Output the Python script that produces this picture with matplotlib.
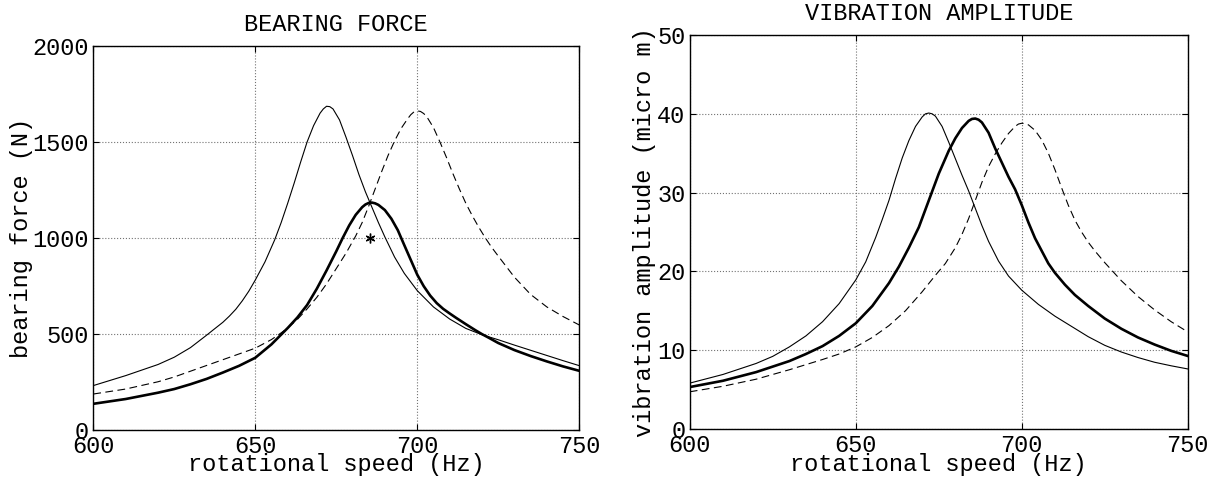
import matplotlib
matplotlib.use("Agg")
import matplotlib.pyplot as plt

plt.rcParams['font.family'] = ['Liberation Mono', 'DejaVu Sans Mono']

# bearing force (N)
bf_thin_hz = [600, 610, 620, 625, 630, 635, 637, 640, 642, 644, 646, 648, 650, 653, 656, 658, 660, 662, 664,
              666, 668, 670, 671, 672, 673, 674, 676, 678, 680, 682, 684, 686, 688, 690, 693, 696, 700, 705,
              710, 715, 720, 725, 730, 735, 740, 745, 750]
bf_thin = [230, 282, 340, 378, 428, 493, 520, 560, 592, 628, 672, 722, 780, 875, 990, 1080, 1180, 1285, 1395,
           1500, 1585, 1650, 1672, 1686, 1684, 1672, 1615, 1525, 1430, 1330, 1240, 1160, 1080, 1005, 900, 815,
           725, 640, 577, 528, 495, 469, 441, 414, 387, 360, 334]

bf_bold_hz = [600, 610, 620, 625, 630, 635, 640, 645, 650, 655, 660, 663, 666, 669, 672, 675, 677, 679, 681,
              683, 684, 685, 686, 687, 688, 690, 692, 694, 696, 698, 700, 702, 704, 706, 708, 710, 712, 715,
              718, 720, 722, 725, 730, 735, 740, 745, 750]
bf_bold = [135, 160, 193, 212, 237, 265, 298, 333, 375, 445, 530, 585, 650, 735, 830, 930, 1000, 1065, 1120,
           1160, 1174, 1182, 1184, 1180, 1172, 1145, 1100, 1040, 962, 885, 808, 748, 699, 660, 630, 606, 583,
           550, 518, 498, 480, 452, 415, 384, 356, 330, 307]

bf_dash_hz = [600, 610, 620, 625, 630, 635, 640, 645, 650, 655, 658, 660, 663, 666, 669, 672, 675, 678, 681,
              683, 685, 687, 689, 691, 693, 695, 697, 698, 699, 700, 701, 702, 703, 705, 707, 709, 711, 713,
              715, 717, 719, 721, 723, 725, 730, 735, 740, 745, 750]
bf_dash = [186, 212, 250, 275, 305, 335, 365, 395, 425, 470, 505, 530, 575, 630, 690, 760, 840, 920, 1010,
           1080, 1165, 1255, 1345, 1430, 1505, 1570, 1620, 1642, 1657, 1662, 1659, 1648, 1630, 1575, 1500,
           1420, 1335, 1255, 1180, 1115, 1055, 1000, 950, 905, 795, 705, 640, 590, 546]

bf_mark_hz = [685.5]
bf_mark = [1000]

# vibration amplitude (micro m)
va_thin_hz = [600, 610, 620, 625, 630, 635, 640, 645, 650, 653, 656, 658, 660, 662, 664, 666, 668, 670,
              671, 672, 673, 674, 676, 678, 680, 682, 684, 686, 688, 690, 693, 696, 700, 705, 710, 715, 720,
              725, 730, 735, 740, 745, 750]
va_thin = [5.8, 6.9, 8.3, 9.2, 10.4, 11.8, 13.6, 15.9, 18.9, 21.2, 24.3, 26.6, 29.0, 31.8, 34.4, 36.6, 38.4,
           39.6, 40.0, 40.1, 40.0, 39.7, 38.4, 36.4, 34.3, 32.2, 30.2, 28.0, 25.8, 23.8, 21.3, 19.4, 17.6,
           15.8, 14.3, 13.0, 11.7, 10.6, 9.75, 9.05, 8.45, 8.0, 7.6]

va_bold_hz = [600, 610, 620, 625, 630, 635, 640, 645, 650, 655, 660, 663, 666, 669, 672, 675, 678, 680, 682,
              684, 685, 686, 687, 688, 690, 692, 694, 696, 698, 700, 702, 704, 706, 708, 710, 713, 716, 720,
              725, 730, 735, 740, 745, 750]
va_bold = [5.3, 6.1, 7.2, 7.9, 8.6, 9.5, 10.5, 11.8, 13.4, 15.6, 18.5, 20.6, 23.0, 25.6, 29.0, 32.4, 35.3,
           36.9, 38.2, 39.1, 39.35, 39.4, 39.25, 38.9, 37.6, 35.6, 33.8, 32.0, 30.4, 28.4, 26.2, 24.2, 22.6,
           21.0, 19.8, 18.3, 17.0, 15.6, 14.0, 12.7, 11.6, 10.7, 9.9, 9.25]

va_dash_hz = [600, 610, 620, 630, 640, 645, 650, 655, 660, 665, 670, 674, 677, 680, 682, 684, 686, 688, 690,
              692, 694, 696, 698, 699, 700, 701, 702, 704, 706, 708, 710, 712, 714, 716, 718, 720, 722, 725,
              730, 735, 740, 745, 750]
va_dash = [4.7, 5.4, 6.3, 7.5, 8.8, 9.5, 10.4, 11.6, 13.1, 15.0, 17.4, 19.5, 21.0, 23.0, 24.7, 26.7, 29.0,
           31.3, 33.3, 34.9, 36.3, 37.5, 38.4, 38.7, 38.8, 38.75, 38.6, 37.9, 36.7, 35.0, 32.9, 30.6, 28.4,
           26.5, 25.0, 23.7, 22.6, 21.1, 18.8, 16.8, 15.1, 13.6, 12.3]

x_ticks = [600, 650, 700, 750]
bf_ticks = [0, 500, 1000, 1500, 2000]
va_ticks = [0, 10, 20, 30, 40, 50]

fig = plt.figure(figsize=(12.21, 4.79), dpi=100)
ax1 = fig.add_axes([0.0764, 0.1029, 0.398, 0.801])
ax2 = fig.add_axes([0.5649, 0.1048, 0.4079, 0.822])

dash = (0, (7, 4))


def style(ax, yticks, ylabel, title, ylab_x, xlab_y, title_y):
    ax.set_xlim(600, 750)
    ax.set_ylim(yticks[0], yticks[-1])
    ax.set_xticks(x_ticks)
    ax.set_yticks(yticks)
    ax.grid(True, linestyle=':', color='0.45', linewidth=0.8)
    ax.tick_params(direction='in', length=4, top=True, right=True, labelsize=17)
    ax.tick_params(axis='x', pad=4)
    ax.tick_params(axis='y', pad=3)
    for s in ax.spines.values():
        s.set_linewidth(1.0)
    ax.set_xlabel('rotational speed (Hz)', fontsize=17)
    ax.xaxis.set_label_coords(0.5, xlab_y)
    ax.set_ylabel(ylabel, fontsize=17)
    ax.yaxis.set_label_coords(ylab_x, 0.5)
    ax.set_title(title, fontsize=17, y=title_y, va='center', pad=0)


ax1.plot(bf_thin_hz, bf_thin, color='k', linewidth=0.8)
ax1.plot(bf_dash_hz, bf_dash, color='k', linewidth=0.8, linestyle=dash)
ax1.plot(bf_bold_hz, bf_bold, color='k', linewidth=1.9)
ax1.plot(bf_mark_hz, bf_mark, linestyle='none', marker=(6, 2, 0), markersize=7,
         markeredgecolor='k', markeredgewidth=1.0)
style(ax1, bf_ticks, 'bearing force (N)', 'BEARING FORCE', -0.125, -0.062, 1.057)

ax2.plot(va_thin_hz, va_thin, color='k', linewidth=0.8)
ax2.plot(va_dash_hz, va_dash, color='k', linewidth=0.8, linestyle=dash)
ax2.plot(va_bold_hz, va_bold, color='k', linewidth=1.9)
style(ax2, va_ticks, 'vibration amplitude (micro m)', 'VIBRATION AMPLITUDE', -0.068, -0.061, 1.056)

fig.savefig('out.png', dpi=100)
